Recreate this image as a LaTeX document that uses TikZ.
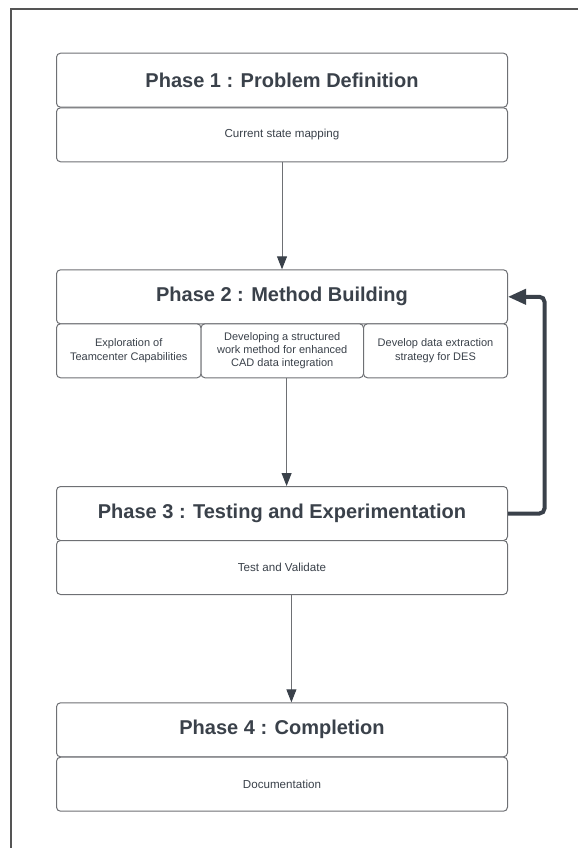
\documentclass[tikz,border=0pt]{standalone}
\usepackage{fontspec}
\setmainfont{Liberation Sans}
\usetikzlibrary{arrows.meta}
\definecolor{ink}{HTML}{3A414A}
\definecolor{edge}{HTML}{6E7074}
\definecolor{framec}{HTML}{555555}
\begin{document}
\begin{tikzpicture}[x=1pt,y=-1pt,
  box/.style={draw=edge, line width=1pt, rounded corners=4pt, fill=white,
    inner sep=0pt, anchor=north west, text=ink, align=center},
  head/.style={box, minimum width=451pt, minimum height=54pt,
    font=\fontsize{20}{24}\selectfont\bfseries},
  sub/.style={box, minimum height=54pt, font=\fontsize{11.6}{13.5}\selectfont},
  subsmall/.style={box, minimum height=54pt, font=\fontsize{11}{13.3}\selectfont},
  flow/.style={draw=edge, line width=0.9pt,
    -{Triangle[length=13pt,width=10pt,color=ink]}},
  loopback/.style={draw=ink, line width=4pt, rounded corners=5pt,
    -{Triangle[length=18pt,width=15pt,color=ink]}},
  framing/.style={draw=framec, line width=1.5pt}]
\useasboundingbox (0,0) rectangle (578,848);

% outer frame (top and left edges)
\coordinate (fa) at (11,848);
\coordinate (fb) at (11,9);
\coordinate (fc) at (578,9);
\draw[framing] (fa) -- (fb) -- (fc);

% Phase 1
\node[head] (p1head) at (56,52.7) {Phase 1 : Problem Definition};
\node[sub, minimum width=451pt] (p1sub) at (56,107.3) {Current state mapping};

% Phase 2
\node[head] (p2head) at (56,269.3) {Phase 2 : Method Building};
\node[subsmall, minimum width=144.5pt] (p2a) at (56,323.3)
  {Exploration of\\Teamcenter Capabilities};
\node[subsmall, minimum width=162.5pt] (p2b) at (200.5,323.3)
  {Developing a structured\\work method for enhanced\\CAD data integration};
\node[subsmall, minimum width=144pt] (p2c) at (363,323.3)
  {Develop data extraction\\strategy for DES};

% Phase 3
\node[head] (p3head) at (56,486) {Phase 3 : Testing and Experimentation};
\node[sub, minimum width=451pt] (p3sub) at (56,540) {Test and Validate};

% Phase 4
\node[head] (p4head) at (56,702.3) {Phase 4 : Completion};
\node[sub, minimum width=451pt] (p4sub) at (56,756.7) {Documentation};

% connector columns
\coordinate (x12) at (282,0);
\coordinate (x23) at (286.6,0);
\coordinate (x34) at (291.4,0);
\coordinate (xloop) at (544.5,0);

\draw[flow] (p1sub.south -| x12) -- (p2head.north -| x12);
\draw[flow] (p2b.south -| x23) -- (p3head.north -| x23);
\draw[flow] (p3sub.south -| x34) -- (p4head.north -| x34);

% feedback from testing back to method building
\draw[loopback] (p3head.east) -- (xloop |- p3head.east)
  -- (xloop |- p2head.east) -- (p2head.east);
\end{tikzpicture}
\end{document}
